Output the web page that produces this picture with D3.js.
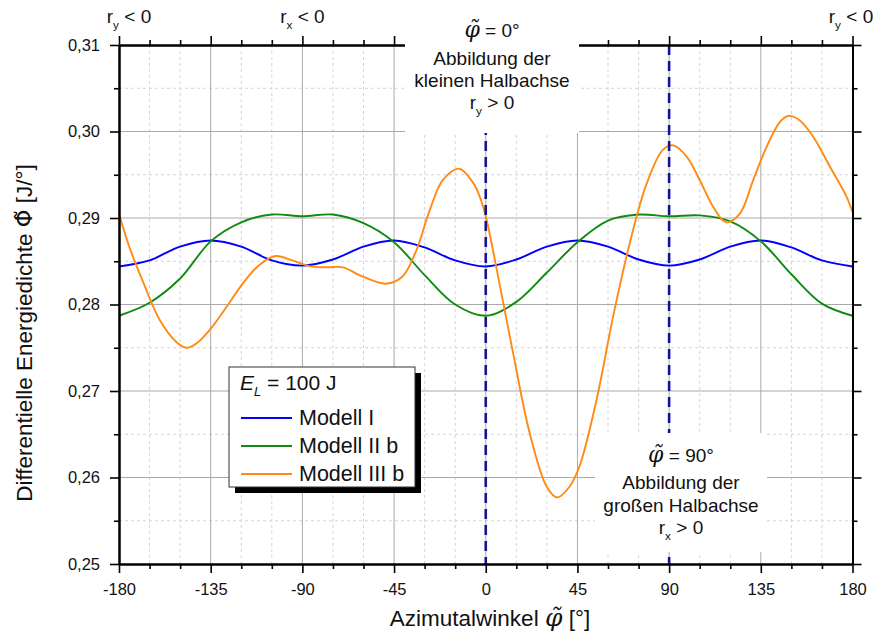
<!DOCTYPE html>
<html><head><meta charset="utf-8">
<script src="https://cdn.jsdelivr.net/npm/d3@7"></script>
<style>
body{margin:0;background:#fff}
svg{display:block}
text{font-family:"Liberation Sans",Arial,sans-serif;fill:#111}
</style>
</head><body>
<svg id="chart" width="875" height="635"></svg>
<script>
// ---------- data ----------
const xTicks = [-180, -135, -90, -45, 0, 45, 90, 135, 180];
const xMinorTicks = [-165, -150, -120, -105, -75, -60, -30, -15, 15, 30, 60, 75, 105, 120, 150, 165];
const yTicks = [0.25, 0.26, 0.27, 0.28, 0.29, 0.30, 0.31];
const yMinorTicks = [0.255, 0.265, 0.275, 0.285, 0.295, 0.305];
const markerAngles = [0, 90];

const anglesI = [-180,-165,-150,-135,-120,-105,-90,-75,-60,-45,-30,-15,0,15,30,45,60,75,90,105,120,135,150,165,180];
const modellI = [0.2844,0.2851,0.2867,0.2874,0.2867,0.2851,0.2845,0.2852,0.2867,0.2874,0.2866,0.2851,0.2844,0.2852,0.2867,0.2874,0.2867,0.2852,0.2845,0.2852,0.2867,0.2874,0.2866,0.2851,0.2844];

const anglesIIb = [-180,-165,-150,-135,-120,-105,-90,-75,-60,-45,-30,-15,0,15,30,45,60,75,90,105,120,135,150,165,180];
const modellIIb = [0.2787,0.2802,0.2830,0.2873,0.2895,0.2904,0.2902,0.2904,0.2894,0.2872,0.2834,0.2800,0.2787,0.2803,0.2837,0.2872,0.2897,0.2904,0.2902,0.2903,0.2896,0.2873,0.2835,0.2801,0.2787];

const anglesIIIb = [-180,-175,-168,-160,-152,-147,-142,-135,-127,-119,-111,-103,-95,-86,-78,-70,-62,-49,-41,-34,-27.5,-21,-13,-6,-3,0,7,13.4,21.6,30,35,41,46,54.4,62.5,70.7,79,87,92,98.6,105,111.6,118,124.7,131.3,137.8,144.4,148.5,154,160.7,169,177,180];
const modellIIIb = [0.2905,0.2867,0.2825,0.2782,0.2757,0.2750,0.2755,0.2772,0.2798,0.2825,0.2846,0.2856,0.2851,0.2844,0.2843,0.2843,0.2834,0.2824,0.2832,0.2863,0.2909,0.2944,0.2957,0.2940,0.2925,0.2902,0.2821,0.2744,0.2651,0.2589,0.2577,0.2589,0.2613,0.2690,0.2786,0.2871,0.2940,0.2979,0.2984,0.2971,0.2944,0.2913,0.2895,0.2905,0.2944,0.2982,0.3011,0.3018,0.3013,0.2994,0.2959,0.2925,0.2907];

const seriesNames = ["Modell I", "Modell II b", "Modell III b"];
const seriesColors = ["#0000ff", "#118a11", "#ff8a14"];

// ---------- layout ----------
const svg = d3.select("#chart");
const L = 119, R = 852.5, T = 45, B = 564;
const x = d3.scaleLinear().domain([-180, 180]).range([L, R]);
const y = d3.scaleLinear().domain([0.25, 0.31]).range([B, T]);

svg.append("rect").attr("width", 875).attr("height", 635).attr("fill", "#fff");

// grid
const grid = svg.append("g");
grid.selectAll(".vmin").data(xMinorTicks).join("line")
  .attr("x1", d => x(d)).attr("x2", d => x(d)).attr("y1", T).attr("y2", B)
  .attr("stroke", "#d4d4d4").attr("stroke-width", 1).attr("stroke-dasharray", "3,3");
grid.selectAll(".hmin").data(yMinorTicks).join("line")
  .attr("x1", L).attr("x2", R).attr("y1", d => y(d)).attr("y2", d => y(d))
  .attr("stroke", "#d4d4d4").attr("stroke-width", 1).attr("stroke-dasharray", "3,3");
grid.selectAll(".vmaj").data(xTicks.slice(1, -1)).join("line")
  .attr("x1", d => x(d)).attr("x2", d => x(d)).attr("y1", T).attr("y2", B)
  .attr("stroke", "#a9a9a9").attr("stroke-width", 1);
grid.selectAll(".hmaj").data(yTicks.slice(1, -1)).join("line")
  .attr("x1", L).attr("x2", R).attr("y1", d => y(d)).attr("y2", d => y(d))
  .attr("stroke", "#a9a9a9").attr("stroke-width", 1);

// curves
const line = d3.line().x(d => x(d[0])).y(d => y(d[1])).curve(d3.curveCatmullRom.alpha(0.5));
const series = [
  d3.zip(anglesI, modellI),
  d3.zip(anglesIIb, modellIIb),
  d3.zip(anglesIIIb, modellIIIb)
];
svg.append("g").selectAll("path").data(series).join("path")
  .attr("d", line).attr("fill", "none")
  .attr("stroke", (d, i) => seriesColors[i]).attr("stroke-width", 1.9);

// dashed marker lines
svg.append("g").selectAll("line").data(markerAngles).join("line")
  .attr("x1", d => x(d)).attr("x2", d => x(d)).attr("y1", T).attr("y2", B)
  .attr("stroke", "#141490").attr("stroke-width", 2.6).attr("stroke-dasharray", "10,6");

// axes
const fmtY = d => d3.format(".2f")(d).replace(".", ",");
const fmtX = d => String(d);
function styleAxis(g) {
  g.select(".domain").attr("stroke", "#000").attr("stroke-width", 2);
  g.selectAll(".tick line").attr("stroke", "#000").attr("stroke-width", 1.6);
  g.selectAll(".tick text").style("font-size", "16.5px").attr("fill", "#111");
}
svg.append("g").attr("transform", `translate(0,${B})`)
  .call(d3.axisBottom(x).tickValues(xTicks).tickFormat(fmtX).tickSize(9).tickSizeOuter(0).tickPadding(10))
  .call(styleAxis);
svg.append("g").attr("transform", `translate(0,${B})`)
  .call(d3.axisBottom(x).tickValues(xMinorTicks).tickFormat("").tickSize(5).tickSizeOuter(0))
  .call(styleAxis);
svg.append("g").attr("transform", `translate(0,${T})`)
  .call(d3.axisTop(x).tickValues(xTicks).tickFormat("").tickSize(9).tickSizeOuter(0))
  .call(styleAxis);
svg.append("g").attr("transform", `translate(0,${T})`)
  .call(d3.axisTop(x).tickValues(xMinorTicks).tickFormat("").tickSize(5).tickSizeOuter(0))
  .call(styleAxis);
svg.append("g").attr("transform", `translate(${L},0)`)
  .call(d3.axisLeft(y).tickValues(yTicks).tickFormat(fmtY).tickSize(9).tickSizeOuter(0).tickPadding(10))
  .call(styleAxis);
svg.append("g").attr("transform", `translate(${L},0)`)
  .call(d3.axisLeft(y).tickValues(yMinorTicks).tickFormat("").tickSize(5).tickSizeOuter(0))
  .call(styleAxis);
svg.append("g").attr("transform", `translate(${R},0)`)
  .call(d3.axisRight(y).tickValues(yTicks).tickFormat("").tickSize(9).tickSizeOuter(0))
  .call(styleAxis);
svg.append("g").attr("transform", `translate(${R},0)`)
  .call(d3.axisRight(y).tickValues(yMinorTicks).tickFormat("").tickSize(5).tickSizeOuter(0))
  .call(styleAxis);

// annotation boxes (white backgrounds)
svg.append("rect").attr("x", 405).attr("y", 0).attr("width", 174).attr("height", 133).attr("fill", "#fff");
svg.append("rect").attr("x", 595).attr("y", 433).attr("width", 172).attr("height", 119).attr("fill", "#fff");

// helpers for text
const phiFont = '"DejaVu Serif","Liberation Serif",serif';
function phiTilde(sel, size) {
  sel.append("tspan").attr("font-family", phiFont).attr("font-style", "italic")
    .style("font-size", size + "px").text("\u03C6\u0303");
}
function rSub(g, cx, by, sub, rest, size) {
  const t = g.append("text").attr("x", cx).attr("y", by).attr("text-anchor", "middle").style("font-size", size + "px");
  t.append("tspan").text("r");
  t.append("tspan").attr("dy", 6).style("font-size", (size * 0.62) + "px").text(sub);
  t.append("tspan").attr("dy", -6).text(" " + rest);
  return t;
}

// top labels
const ann = svg.append("g");
rSub(ann, 129, 23, "y", "< 0", 19);
rSub(ann, x(-90), 23, "x", "< 0", 19);
rSub(ann, 851, 23, "y", "< 0", 19);

// top annotation
const topCx = 492;
{
  const t = ann.append("text").attr("x", topCx).attr("y", 37).attr("text-anchor", "middle").style("font-size", "19px");
  phiTilde(t, 22);
  t.append("tspan").text(" = 0°");
  ann.append("text").attr("x", topCx).attr("y", 65).attr("text-anchor", "middle").style("font-size", "19px").text("Abbildung der");
  ann.append("text").attr("x", topCx).attr("y", 87).attr("text-anchor", "middle").style("font-size", "19px").text("kleinen Halbachse");
  rSub(ann, topCx, 109, "y", "> 0", 19);
}
// bottom annotation
const botCx = 681;
{
  const t = ann.append("text").attr("x", botCx).attr("y", 462).attr("text-anchor", "middle").style("font-size", "19px");
  phiTilde(t, 22);
  t.append("tspan").text(" = 90°");
  ann.append("text").attr("x", botCx).attr("y", 489).attr("text-anchor", "middle").style("font-size", "19px").text("Abbildung der");
  ann.append("text").attr("x", botCx).attr("y", 512).attr("text-anchor", "middle").style("font-size", "19px").text("großen Halbachse");
  rSub(ann, botCx, 534, "x", "> 0", 19);
}

// axis titles
{
  const t = svg.append("text").attr("x", 490).attr("y", 626).attr("text-anchor", "middle").style("font-size", "22.5px");
  t.append("tspan").text("Azimutalwinkel ");
  phiTilde(t, 25);
  t.append("tspan").text(" [°]");
}
{
  const t = svg.append("text").attr("transform", "translate(32,333) rotate(-90)").attr("text-anchor", "middle").style("font-size", "22.5px");
  t.append("tspan").text("Differentielle Energiedichte ");
  t.append("tspan").attr("font-family", '"DejaVu Sans",sans-serif').text("\u03A6\u0303");
  t.append("tspan").text(" [J/°]");
}

// legend
const lg = svg.append("g");
lg.append("rect").attr("x", 235).attr("y", 373).attr("width", 186).attr("height", 120).attr("fill", "#000");
lg.append("rect").attr("x", 229).attr("y", 367).attr("width", 186).attr("height", 120).attr("fill", "#fff").attr("stroke", "#333").attr("stroke-width", 1);
{
  const t = lg.append("text").attr("x", 240).attr("y", 390).style("font-size", "21px");
  t.append("tspan").attr("font-style", "italic").text("E");
  t.append("tspan").attr("dy", 6).style("font-size", "13px").attr("font-style", "italic").text("L");
  t.append("tspan").attr("dy", -6).text(" = 100 J");
}
seriesNames.forEach((name, i) => {
  const yy = 418 + i * 28;
  lg.append("line").attr("x1", 241).attr("x2", 292).attr("y1", yy).attr("y2", yy)
    .attr("stroke", seriesColors[i]).attr("stroke-width", 2);
  lg.append("text").attr("x", 299).attr("y", yy + 7).style("font-size", "21.5px").text(name);
});
</script>
</body></html>
